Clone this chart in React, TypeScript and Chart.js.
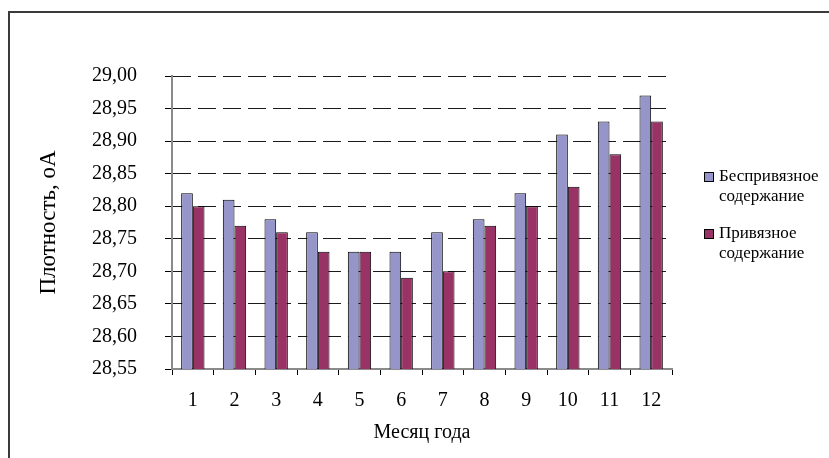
import React, { useEffect, useRef } from "react";
import { Chart, registerables } from "chart.js";

Chart.register(...registerables);

const months = ["1", "2", "3", "4", "5", "6", "7", "8", "9", "10", "11", "12"];
const freeStall = [28.82, 28.81, 28.78, 28.76, 28.73, 28.73, 28.76, 28.78, 28.82, 28.91, 28.93, 28.97];
const tieStall = [28.8, 28.77, 28.76, 28.73, 28.73, 28.69, 28.7, 28.77, 28.8, 28.83, 28.88, 28.93];
const seriesNames = ["Беспривязное содержание", "Привязное содержание"];
const yMin = 28.55;
const yMax = 29.0;
const yStep = 0.05;
const xTitle = "Месяц года";
const yTitle = "Плотность, оА";

const FONT_FAMILY = '"Liberation Serif", "Times New Roman", serif';

const legendPlugin = {
  id: "sideLegend",
  afterDraw(chart: any) {
    const { ctx, chartArea } = chart;
    ctx.save();
    ctx.font = `17px ${FONT_FAMILY}`;
    ctx.textBaseline = "middle";
    ctx.textAlign = "left";
    const boxX = chartArea.right + 32;
    let y = chartArea.top + 101;
    chart.data.datasets.forEach((ds: any) => {
      ctx.fillStyle = ds.backgroundColor;
      ctx.fillRect(boxX, y - 5, 10, 10);
      ctx.strokeStyle = "#000";
      ctx.lineWidth = 1;
      ctx.strokeRect(boxX + 0.5, y - 5 + 0.5, 9, 9);
      ctx.fillStyle = "#000";
      const lines = String(ds.label).split(" ");
      lines.forEach((ln: string, i: number) => {
        ctx.fillText(ln, boxX + 15, y + i * 20);
      });
      y += 57;
    });
    ctx.restore();
  },
};

export default function App() {
  const ref = useRef<HTMLCanvasElement | null>(null);
  useEffect(() => {
    if (!ref.current) return;
    const tickFont = { family: FONT_FAMILY, size: 20 };
    const chart = new Chart(ref.current, {
      type: "bar",
      data: {
        labels: months,
        datasets: [
          {
            label: seriesNames[0],
            data: freeStall,
            backgroundColor: "#9595CA",
            borderColor: "#000",
            borderWidth: 1,
            categoryPercentage: 0.56,
            barPercentage: 1,
          },
          {
            label: seriesNames[1],
            data: tieStall,
            backgroundColor: "#993366",
            borderColor: "#000",
            borderWidth: 1,
            categoryPercentage: 0.56,
            barPercentage: 1,
          },
        ],
      },
      options: {
        responsive: false,
        animation: false,
        devicePixelRatio: 1,
        layout: { padding: { left: 0, top: 76, right: 157, bottom: 0 } },
        plugins: {
          legend: { display: false },
          tooltip: { enabled: false },
        },
        scales: {
          x: {
            offset: true,
            grid: {
              offset: true,
              drawOnChartArea: false,
              tickLength: 6,
              tickColor: "#000",
              tickWidth: 1,
            },
            border: { color: "#8a8a8a", width: 2 },
            ticks: { color: "#000", font: tickFont, padding: 14, maxRotation: 0 },
            title: {
              display: true,
              text: xTitle,
              color: "#000",
              font: { family: FONT_FAMILY, size: 20 },
              padding: { top: 0, bottom: 13 },
            },
            afterFit: (s: any) => {
              s.height = 89;
            },
          },
          y: {
            min: yMin,
            max: yMax,
            ticks: {
              stepSize: yStep,
              color: "#000",
              font: tickFont,
              padding: 28,
              callback: (v: any) => Number(v).toFixed(2).replace(".", ","),
            },
            grid: {
              color: (c: any) => (c.index === 0 ? "rgba(0,0,0,0)" : "#1a1a1a"),
              lineWidth: 1,
              tickLength: 7,
              tickColor: "#000",
              tickWidth: 1,
            },
            border: { color: "#8a8a8a", width: 2, dash: [18, 7] },
            title: {
              display: true,
              text: yTitle,
              color: "#000",
              font: { family: FONT_FAMILY, size: 23 },
              padding: { top: 35, bottom: 0 },
            },
            afterFit: (s: any) => {
              s.width = 172;
            },
          },
        },
      },
      plugins: [legendPlugin],
    } as any);
    return () => chart.destroy();
  }, []);

  return (
    <div
      style={{
        position: "fixed",
        left: 0,
        top: 0,
        width: 829,
        height: 458,
        overflow: "hidden",
        background: "#fff",
      }}
    >
      <div
        style={{
          position: "absolute",
          left: 8,
          top: 11,
          width: 900,
          height: 500,
          border: "2px solid #3a3a3a",
        }}
      />
      <canvas
        ref={ref}
        width={829}
        height={458}
        style={{ position: "absolute", left: 0, top: 0, width: 829, height: 458 }}
      />
    </div>
  );
}
